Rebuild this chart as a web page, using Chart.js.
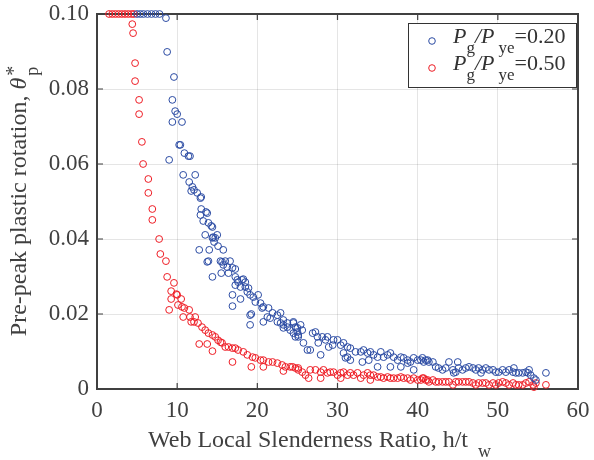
<!DOCTYPE html>
<html>
<head>
<meta charset="utf-8">
<script src="https://cdn.jsdelivr.net/npm/chart.js@4.4.1/dist/chart.umd.min.js"></script>
<style>
  body { margin: 0; background: #fff; }
  #wrap { width: 594px; height: 460px; }
</style>
</head>
<body>
<div id="wrap"><canvas id="chart" width="594" height="460"></canvas></div>
<script>
  // tick values
  const xTicks = [0, 10, 20, 30, 40, 50, 60];
  const yTicks = [0, 0.02, 0.04, 0.06, 0.08, 0.10];

  // legend labels: [main, sub, main, sub, tail]
  const legendLabels = [
    ['P', 'g', '/P', 'ye', '=0.20'],
    ['P', 'g', '/P', 'ye', '=0.50']
  ];

  // Pg/Pye = 0.20  [h/tw, theta_p*]
  const blueSeries = [
    [5.0,0.1],[5.4,0.1],[5.8,0.1],[6.3,0.1],[6.8,0.1],[7.3,0.1],[7.8,0.1],
    [8.6,0.0989],[8.75,0.0899],[9.6,0.0832],[9.4,0.0771],[9.75,0.0741],[10.0,0.0733],[9.4,0.0712],[10.6,0.0712],
    [10.25,0.0651],[10.4,0.0651],[10.9,0.0629],[11.4,0.0621],[11.6,0.0621],[9.0,0.0611],[10.75,0.0571],[12.25,0.0571],
    [11.5,0.0552],[11.9,0.0539],[11.75,0.0528],[12.1,0.0531],[12.5,0.0523],[12.9,0.0509],[13.0,0.0512],
    [13.0,0.048],[13.75,0.0469],[13.6,0.0472],[12.9,0.0464],[13.25,0.0448],[13.9,0.0443],[14.25,0.0435],[14.4,0.0432],
    [13.5,0.0411],[15.0,0.0411],[14.5,0.0405],[14.4,0.0403],[14.75,0.0403],[14.6,0.0392],[15.1,0.0381],[15.75,0.0371],[14.0,0.0371],[12.75,0.0371],
    [13.9,0.0341],[15.4,0.0341],[16.0,0.0341],[16.6,0.0341],[15.75,0.0331],[16.25,0.0325],[16.9,0.0323],[17.25,0.032],[13.75,0.0339],[15.6,0.0339],
    [15.5,0.0309],[16.4,0.0309],[14.4,0.0299],[17.25,0.0299],[18.25,0.0293],[17.5,0.0291],[18.1,0.0291],[18.5,0.0285],[17.6,0.0285],[17.25,0.0277],[17.9,0.0272],[18.5,0.0272],[18.9,0.0269],[18.75,0.0259],
    [16.9,0.0251],[19.1,0.0251],[20.1,0.0251],[19.5,0.0245],[17.9,0.024],[19.75,0.0232],[20.4,0.0229],[16.9,0.0221],[20.75,0.0219],[21.4,0.0216],[20.6,0.0216],
    [21.9,0.0203],[22.9,0.0203],[19.25,0.02],[22.5,0.0197],[19.1,0.0197],[21.25,0.0192],[21.6,0.0189],[23.25,0.0184],[20.75,0.0179],[22.5,0.0179],[23.75,0.0176],[22.9,0.0176],[24.5,0.0176],
    [19.1,0.0171],[23.25,0.0171],[23.75,0.0165],[23.25,0.0163],[25.0,0.0163],[24.1,0.0157],[24.5,0.0179],[24.75,0.0139],[25.1,0.0139],[24.75,0.0165],[25.0,0.0152],[24.5,0.0149],[25.1,0.0144],[25.4,0.0171],[25.6,0.0157],
    [25.75,0.0123],[26.25,0.0104],[26.6,0.0104],[26.9,0.0149],[27.25,0.0152],[27.5,0.0139],[27.6,0.0123],[27.9,0.0091],[28.1,0.0139],[28.5,0.0131],[28.75,0.0139],[28.9,0.0112],[29.4,0.0117],[29.5,0.0131],[30.0,0.0131],[30.4,0.0117],[30.75,0.0123],[31.25,0.0112],[31.6,0.0109],[30.75,0.0096],[31.25,0.0085],[31.6,0.0077],[31.0,0.0083],
    [32.25,0.0099],[32.9,0.0099],[33.25,0.0104],[33.75,0.0096],[34.1,0.0099],[34.5,0.0091],[35.0,0.0085],[35.4,0.0099],[35.75,0.0085],[36.25,0.0091],[36.6,0.0096],[37.0,0.0085],[37.5,0.0077],[37.9,0.0085],[38.25,0.0083],[38.75,0.0077],[39.1,0.0072],[39.5,0.0083],[40.0,0.0077],[40.4,0.0077],[40.75,0.0072],[41.25,0.0077],
    [33.1,0.0072],[33.9,0.0077],[35.0,0.0059],[36.6,0.0059],[37.9,0.0059],[38.75,0.0069],[39.5,0.0051],
    [40.6,0.0083],[41.0,0.0077],[41.4,0.0072],[41.9,0.0072],[42.25,0.0059],[42.6,0.0056],[43.1,0.0051],[43.5,0.0056],[43.9,0.0072],[44.4,0.0051],[44.75,0.0045],[45.0,0.0072],[45.1,0.0056],[45.6,0.0051],[46.0,0.0056],[46.4,0.0059],[46.9,0.0056],[47.25,0.0051],[47.6,0.0056],[48.1,0.0051],[48.5,0.0056],[48.9,0.0051],[49.4,0.0051],[49.75,0.0045],[50.1,0.0045],[50.6,0.0051],[51.0,0.0045],[51.4,0.0051],[51.9,0.0045],[52.25,0.0043],[52.6,0.0043],[53.1,0.0043],[53.5,0.0045],[53.9,0.0051],[54.1,0.0037],[54.5,0.0029],[54.75,0.0024],[56.0,0.0043],[44.5,0.0043],[47.9,0.0043],[52.0,0.0056],[53.75,0.0043]
  ];

  // Pg/Pye = 0.50
  const redSeries = [
    [1.5,0.1],[1.9,0.1],[2.3,0.1],[2.7,0.1],[3.1,0.1],[3.5,0.1],[3.9,0.1],[4.3,0.1],[4.6,0.1],
    [4.4,0.0973],[4.5,0.0949],[4.75,0.0869],[4.75,0.0821],[5.25,0.0771],[5.25,0.0733],[5.6,0.0659],[5.75,0.06],[6.4,0.056],[6.4,0.0523],[6.9,0.048],[6.9,0.0451],[7.75,0.04],[7.9,0.036],[8.6,0.0341],[8.75,0.0299],
    [9.6,0.0283],[9.25,0.0261],[9.9,0.0253],[10.0,0.0251],[9.25,0.024],[10.5,0.024],[9.0,0.0211],[10.1,0.0224],[10.6,0.0219],[10.9,0.0216],[11.5,0.0211],[10.75,0.0192],[11.6,0.0192],[12.25,0.0192],[11.75,0.0179],[12.1,0.0179],[12.6,0.0176],[13.1,0.0165],[13.5,0.0157],[13.9,0.0149],[14.4,0.0144],[14.75,0.0139],[12.75,0.012],[13.75,0.012],[14.4,0.0101],
    [15.1,0.013],[15.6,0.0123],[15.4,0.0125],[16.0,0.0112],[16.4,0.0112],[16.9,0.0109],[17.25,0.0109],[17.6,0.0104],[18.25,0.0099],[18.75,0.0091],[19.4,0.0085],[19.75,0.0083],[20.4,0.0077],[20.75,0.0077],[21.4,0.0072],[21.9,0.0072],[22.5,0.0069],[23.1,0.0064],[16.9,0.0072],[19.25,0.0059],[20.75,0.0059],[23.25,0.0048],[23.5,0.0059],[24.1,0.0059],[24.75,0.0056],[25.1,0.0056],
    [24.4,0.0059],[25.1,0.0051],[25.6,0.0045],[26.0,0.0037],[26.4,0.0029],[26.6,0.0051],[27.25,0.0051],[27.9,0.0045],[28.25,0.0051],[28.75,0.0043],[29.1,0.0045],[29.5,0.0045],[30.0,0.0037],[30.4,0.0043],[30.75,0.0045],[31.25,0.0037],[31.6,0.0043],[32.0,0.0037],[32.5,0.0043],[32.9,0.0029],[33.25,0.0037],[33.75,0.0043],[34.1,0.0037],[34.5,0.0037],[35.0,0.0032],[35.4,0.0032],[35.75,0.0029],[36.25,0.0032],[36.6,0.0029],[37.0,0.0029],[37.5,0.0029],[37.9,0.0032],[38.25,0.0029],[38.75,0.0029],[39.1,0.0024],[39.5,0.0029],[40.0,0.0024],[40.4,0.0024],[40.75,0.0029],[41.25,0.0024],[27.9,0.0029],[30.4,0.0029],[34.1,0.0024],
    [40.6,0.0029],[41.0,0.0024],[41.4,0.0019],[41.9,0.0024],[42.25,0.0019],[42.6,0.0019],[43.1,0.0019],[43.5,0.0019],[43.9,0.0019],[44.4,0.0011],[44.75,0.0019],[45.1,0.0019],[45.6,0.0019],[46.0,0.0019],[46.4,0.0019],[46.9,0.0016],[47.25,0.0011],[47.6,0.0016],[48.1,0.0016],[48.5,0.0016],[48.9,0.0011],[49.4,0.0016],[49.75,0.0011],[50.1,0.0016],[50.6,0.0019],[51.0,0.0016],[51.4,0.0011],[51.9,0.0016],[52.25,0.0011],[52.6,0.0011],[53.1,0.0011],[53.5,0.0016],[53.9,0.0019],[54.4,0.0011],[54.75,0.0016],[56.0,0.0011],[54.5,0.0005]
  ];

  const BLUE = '#2b4ba3';
  const RED = '#ee1d25';
  const INK = '#404040';
  const SERIF = '"Liberation Serif", "Times New Roman", serif';

  function toPoints(series) {
    return series.map(p => ({ x: p[0], y: p[1] }));
  }

  // frame + inward ticks on all four sides (under the markers)
  const framePlugin = {
    id: 'frame',
    beforeDatasetsDraw(chart) {
      const { ctx, chartArea: a, scales } = chart;
      ctx.save();
      ctx.strokeStyle = INK;
      ctx.lineWidth = 1.2;
      ctx.beginPath();
      xTicks.forEach(v => {
        const px = scales.x.getPixelForValue(v);
        ctx.moveTo(px, a.bottom); ctx.lineTo(px, a.bottom - 6);
        ctx.moveTo(px, a.top); ctx.lineTo(px, a.top + 6);
      });
      yTicks.forEach(v => {
        const py = scales.y.getPixelForValue(v);
        ctx.moveTo(a.left, py); ctx.lineTo(a.left + 6, py);
        ctx.moveTo(a.right, py); ctx.lineTo(a.right - 6, py);
      });
      ctx.stroke();
      ctx.lineWidth = 2;
      ctx.strokeRect(a.left, a.top, a.right - a.left, a.bottom - a.top);
      ctx.restore();
    }
  };

  // axis titles with sub/superscripts
  const titlePlugin = {
    id: 'titles',
    afterDraw(chart) {
      const { ctx, chartArea: a } = chart;
      ctx.save();
      ctx.fillStyle = INK;
      ctx.textBaseline = 'alphabetic';
      ctx.textAlign = 'left';

      // x title
      const xMain = 'Web Local Slenderness Ratio, h/t';
      ctx.font = '24px ' + SERIF;
      const wMain = ctx.measureText(xMain).width;
      const x0 = a.left + 51;
      ctx.fillText(xMain, x0, 447);
      ctx.font = '18px ' + SERIF;
      ctx.fillText('w', x0 + wMain + 10, 457);

      // y title (rotated)
      const yMain = 'Pre-peak plastic rotation, ';
      ctx.font = '24px ' + SERIF;
      const w1 = ctx.measureText(yMain).width;
      ctx.font = 'italic 24px ' + SERIF;
      const w2 = ctx.measureText('\u03B8').width;
      ctx.font = '18px ' + SERIF;
      const w3 = ctx.measureText('p').width;
      const total = w1 + w2 + 2 + w3;
      ctx.translate(26, (a.top + a.bottom) / 2);
      ctx.rotate(-Math.PI / 2);
      let s = -total / 2;
      ctx.font = '24px ' + SERIF;
      ctx.fillText(yMain, s, 0);
      s += w1;
      ctx.font = 'italic 24px ' + SERIF;
      ctx.fillText('\u03B8', s, 0);
      s += w2 + 2;
      ctx.font = '20px ' + SERIF;
      ctx.fillText('*', s, -6);
      ctx.font = '18px ' + SERIF;
      ctx.fillText('p', s, 12);
      ctx.restore();
    }
  };

  // legend box drawn by hand (sub-scripted labels)
  const legendPlugin = {
    id: 'texLegend',
    afterDraw(chart) {
      const { ctx } = chart;
      const box = { x: 408, y: 23, w: 168, h: 64 };
      const colors = [BLUE, RED];
      ctx.save();
      ctx.fillStyle = '#fff';
      ctx.fillRect(box.x, box.y, box.w, box.h);
      ctx.strokeStyle = '#333';
      ctx.lineWidth = 1;
      ctx.strokeRect(box.x + 0.5, box.y + 0.5, box.w, box.h);
      legendLabels.forEach((parts, i) => {
        const base = 43 + i * 27;
        ctx.strokeStyle = colors[i];
        ctx.lineWidth = 1;
        ctx.beginPath();
        ctx.arc(432, base - 2, 3.3, 0, Math.PI * 2);
        ctx.stroke();
        ctx.fillStyle = '#333';
        ctx.textAlign = 'left';
        ctx.textBaseline = 'alphabetic';
        let x = 453;
        parts.forEach((t, k) => {
          const sub = (k === 1 || k === 3);
          if (sub) {
            ctx.font = '17px ' + SERIF;
            ctx.fillText(t, x, base + 10);
          } else if (k === 4) {
            ctx.font = '22px ' + SERIF;
            ctx.fillText(t, x, base);
          } else {
            ctx.font = 'italic 22px ' + SERIF;
            ctx.fillText(t, x, base);
          }
          x += ctx.measureText(t).width + (k === 2 ? 4 : 0);
        });
      });
      ctx.restore();
    }
  };

  new Chart(document.getElementById('chart'), {
    type: 'scatter',
    data: {
      datasets: [
        {
          label: 'Pg/Pye=0.20',
          data: toPoints(blueSeries),
          borderColor: BLUE,
          backgroundColor: 'rgba(0,0,0,0)',
          borderWidth: 1,
          pointRadius: 3.4,
          clip: false
        },
        {
          label: 'Pg/Pye=0.50',
          data: toPoints(redSeries),
          borderColor: RED,
          backgroundColor: 'rgba(0,0,0,0)',
          borderWidth: 1,
          pointRadius: 3.4,
          clip: false
        }
      ]
    },
    options: {
      responsive: false,
      animation: false,
      layout: { padding: { top: 14, right: 16, left: 0, bottom: 0 } },
      plugins: {
        legend: { display: false },
        tooltip: { enabled: false }
      },
      scales: {
        x: {
          type: 'linear',
          min: 0,
          max: 60,
          afterBuildTicks: scale => { scale.ticks = xTicks.map(v => ({ value: v })); },
          afterFit: scale => {
            scale.height = 71;
            scale.paddingLeft = 0;
            scale.paddingRight = 0;
          },
          ticks: {
            color: INK,
            padding: 8,
            maxRotation: 0,
            font: { family: SERIF, size: 23 }
          },
          grid: { color: 'rgba(0,0,0,0.1)', lineWidth: 1, drawTicks: false },
          border: { display: false }
        },
        y: {
          type: 'linear',
          min: 0,
          max: 0.1,
          afterBuildTicks: scale => { scale.ticks = yTicks.map(v => ({ value: v })); },
          afterFit: scale => {
            scale.width = 97;
            scale.paddingTop = 0;
            scale.paddingBottom = 0;
          },
          ticks: {
            color: INK,
            padding: 8,
            font: { family: SERIF, size: 23 },
            callback: v => (v === 0 ? '0' : v.toFixed(2))
          },
          grid: { color: 'rgba(0,0,0,0.1)', lineWidth: 1, drawTicks: false },
          border: { display: false }
        }
      }
    },
    plugins: [framePlugin, titlePlugin, legendPlugin]
  });
</script>
</body>
</html>
